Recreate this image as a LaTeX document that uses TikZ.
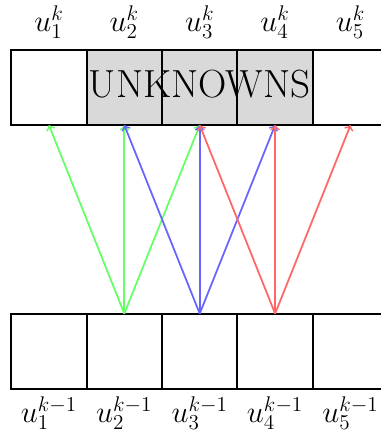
\documentclass[tikz,border=0pt]{standalone}
\usepackage{tikz}
\definecolor{cgreen}{rgb}{0.4,1,0.4}
\definecolor{cblue}{rgb}{0.4,0.4,1}
\definecolor{cred}{rgb}{1,0.4,0.4}
\begin{document}
\begin{tikzpicture}[
  cell/.style={draw=black, very thick, minimum size=1.5cm, inner sep=0pt, outer sep=0pt},
  unk/.style={cell, fill=gray!30},
  lbl/.style={font=\LARGE, inner sep=2pt},
  arr/.style={->, line width=1pt}
]
\useasboundingbox (-0.224,-0.955) rectangle (7.355,7.74);
% top row
\node[cell] (t1) at (0.75,6) {};
\node[unk]  (t2) at (2.25,6) {};
\node[unk]  (t3) at (3.75,6) {};
\node[unk]  (t4) at (5.25,6) {};
\node[cell] (t5) at (6.75,6) {};
\node[font=\fontsize{22.2}{26}\selectfont, inner sep=0pt] (unknowns) at ([yshift=2pt]t3.center) {UNKNOWNS};
% bottom row
\node[cell] (b1) at (0.75,0.75) {};
\node[cell] (b2) at (2.25,0.75) {};
\node[cell] (b3) at (3.75,0.75) {};
\node[cell] (b4) at (5.25,0.75) {};
\node[cell] (b5) at (6.75,0.75) {};
% labels
\foreach \i in {1,...,5} {
  \node[lbl, anchor=south] (lt\i) at ([yshift=4pt]t\i.north) {$u_{\i}^{k}$};
  \node[lbl, anchor=north] (lb\i) at ([yshift=-2pt]b\i.south) {$u_{\i}^{k-1}$};
}
% arrows
\draw[arr, cgreen] (b2.north) -- (t1.south);
\draw[arr, cgreen] (b2.north) -- (t2.south);
\draw[arr, cgreen] (b2.north) -- (t3.south);
\draw[arr, cblue] (b3.north) -- (t2.south);
\draw[arr, cblue] (b3.north) -- (t3.south);
\draw[arr, cblue] (b3.north) -- (t4.south);
\draw[arr, cred] (b4.north) -- (t3.south);
\draw[arr, cred] (b4.north) -- (t4.south);
\draw[arr, cred] (b4.north) -- (t5.south);
\end{tikzpicture}
\end{document}
